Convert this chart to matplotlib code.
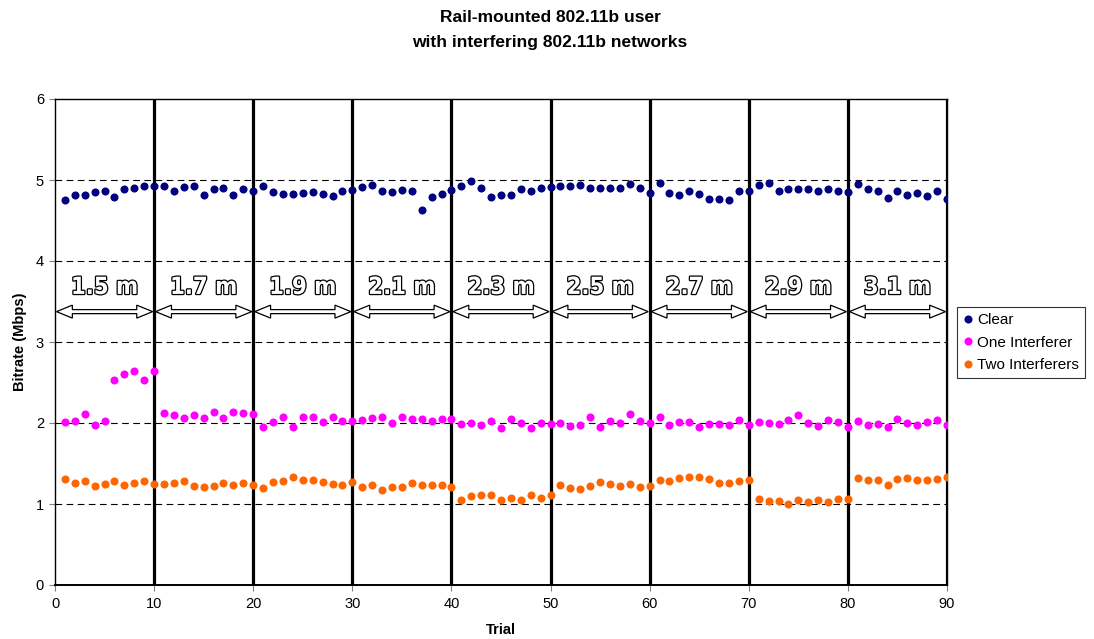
import numpy as np
import matplotlib
matplotlib.use("Agg")
import matplotlib.pyplot as plt
import matplotlib.patheffects as pe
from matplotlib.patches import Polygon
from matplotlib import font_manager

plt.rcParams['font.family'] = ['Liberation Sans', 'DejaVu Sans']

# data
trials = np.arange(1, 91)
clear = [4.75, 4.82, 4.82, 4.85, 4.86, 4.79, 4.89, 4.90, 4.93, 4.92,
         4.92, 4.87, 4.91, 4.93, 4.82, 4.89, 4.90, 4.82, 4.89, 4.86,
         4.92, 4.85, 4.83, 4.83, 4.84, 4.85, 4.83, 4.80, 4.86, 4.88,
         4.91, 4.94, 4.86, 4.85, 4.88, 4.86, 4.63, 4.79, 4.83, 4.88,
         4.93, 4.99, 4.90, 4.79, 4.81, 4.81, 4.89, 4.87, 4.90, 4.91,
         4.93, 4.92, 4.94, 4.90, 4.90, 4.90, 4.90, 4.95, 4.90, 4.84,
         4.96, 4.84, 4.82, 4.87, 4.83, 4.77, 4.77, 4.75, 4.87, 4.86,
         4.94, 4.96, 4.86, 4.89, 4.89, 4.89, 4.86, 4.89, 4.86, 4.85,
         4.95, 4.89, 4.87, 4.78, 4.86, 4.82, 4.84, 4.80, 4.86, 4.77]
one_interferer = [2.01, 2.03, 2.11, 1.98, 2.03, 2.53, 2.60, 2.64, 2.53, 2.64,
                  2.12, 2.10, 2.06, 2.10, 2.06, 2.14, 2.06, 2.13, 2.12, 2.11,
                  1.95, 2.01, 2.07, 1.95, 2.08, 2.08, 2.01, 2.07, 2.03, 2.02,
                  2.04, 2.06, 2.08, 2.00, 2.07, 2.05, 2.05, 2.02, 2.05, 2.05,
                  1.99, 2.00, 1.97, 2.02, 1.94, 2.05, 2.00, 1.94, 2.00, 1.99,
                  2.00, 1.96, 1.97, 2.07, 1.95, 2.03, 2.00, 2.11, 2.02, 2.00,
                  2.08, 1.97, 2.01, 2.01, 1.95, 1.99, 1.99, 1.97, 2.04, 1.97,
                  2.01, 2.00, 1.99, 2.04, 2.10, 2.00, 1.96, 2.04, 2.01, 1.95,
                  2.03, 1.97, 1.99, 1.95, 2.05, 2.00, 1.97, 2.01, 2.04, 1.98]
two_interferers = [1.31, 1.26, 1.29, 1.22, 1.25, 1.29, 1.24, 1.26, 1.29, 1.245,
                   1.245, 1.26, 1.28, 1.22, 1.215, 1.22, 1.26, 1.24, 1.26, 1.24,
                   1.20, 1.27, 1.28, 1.33, 1.30, 1.30, 1.275, 1.25, 1.235, 1.27,
                   1.21, 1.23, 1.17, 1.21, 1.215, 1.265, 1.23, 1.24, 1.23, 1.215,
                   1.045, 1.10, 1.11, 1.11, 1.045, 1.07, 1.045, 1.115, 1.07, 1.115,
                   1.23, 1.20, 1.19, 1.225, 1.27, 1.25, 1.22, 1.25, 1.215, 1.22,
                   1.30, 1.29, 1.325, 1.33, 1.33, 1.31, 1.26, 1.26, 1.28, 1.30,
                   1.06, 1.04, 1.04, 1.00, 1.045, 1.02, 1.05, 1.02, 1.06, 1.06,
                   1.325, 1.30, 1.30, 1.24, 1.31, 1.325, 1.30, 1.30, 1.31, 1.335]
distances = ['1.5 m', '1.7 m', '1.9 m', '2.1 m', '2.3 m', '2.5 m', '2.7 m', '2.9 m', '3.1 m']
boundaries = [0, 10, 20, 30, 40, 50, 60, 70, 80, 90]

# pick a narrow bold face for the distance labels if one is installed
names = {f.name for f in font_manager.fontManager.ttflist}
narrow = 'Liberation Sans Narrow' if 'Liberation Sans Narrow' in names else 'DejaVu Sans'

fig = plt.figure(figsize=(10.94, 6.39), dpi=100)
ax = fig.add_axes([55 / 1094, 54 / 639, 892 / 1094, 486 / 639])

ax.set_xlim(0, 90)
ax.set_ylim(0, 6)
ax.set_xticks(range(0, 91, 10))
ax.set_yticks(range(0, 7))
ax.tick_params(direction='out', length=4, width=0.8, color='#808080',
               labelsize=10.5)
ax.tick_params(axis='x', pad=5)
ax.tick_params(axis='y', pad=4)

# dashed gridlines
for yv in [1, 2, 3, 4, 5]:
    ax.axhline(yv, color='black', lw=0.8, ls=(0, (6, 4)), zorder=1)

# thick separators between distance segments
for b in boundaries[1:]:
    ax.axvline(b, color='black', lw=2.3, zorder=2)

for s in ax.spines.values():
    s.set_linewidth(1.0)
ax.spines['bottom'].set_linewidth(1.4)

ms = 5.8
ax.plot(trials, clear, 'o', color='#000080', ms=ms, mew=0, label='Clear', zorder=4)
ax.plot(trials, one_interferer, 'o', color='#FF00FF', ms=ms, mew=0, label='One Interferer', zorder=4)
ax.plot(trials, two_interferers, 'o', color='#FF6600', ms=ms, mew=0, label='Two Interferers', zorder=4)

# distance labels and double-headed arrows
label_y = 3.68
arrow_y = 3.375
hl, hh, sh = 1.75, 0.08, 0.025
outline = [pe.Stroke(linewidth=1.8, foreground='black'), pe.Normal()]
for i, name in enumerate(distances):
    x0, x1 = boundaries[i], boundaries[i + 1]
    ax.text((x0 + x1) / 2, label_y, name, ha='center', va='center',
            fontsize=17, fontweight='bold', fontstretch='condensed', color='white',
            family=narrow, path_effects=outline, zorder=5)
    pts = [(x0 + 0.15, arrow_y),
           (x0 + hl, arrow_y + hh), (x0 + hl, arrow_y + sh),
           (x1 - hl, arrow_y + sh), (x1 - hl, arrow_y + hh),
           (x1 - 0.15, arrow_y),
           (x1 - hl, arrow_y - hh), (x1 - hl, arrow_y - sh),
           (x0 + hl, arrow_y - sh), (x0 + hl, arrow_y - hh)]
    ax.add_patch(Polygon(pts, closed=True, facecolor='white', edgecolor='black',
                         lw=0.9, zorder=5))

ax.set_xlabel('Trial', fontsize=10.5, fontweight='bold', labelpad=8)
ax.set_ylabel('Bitrate (Mbps)', fontsize=10.5, fontweight='bold', labelpad=6)

fig.text(550 / 1094, 1 - 18 / 639, 'Rail-mounted 802.11b user', ha='center', va='center',
         fontsize=12.5, fontweight='bold')
fig.text(550 / 1094, 1 - 43 / 639, 'with interfering 802.11b networks', ha='center', va='center',
         fontsize=12.5, fontweight='bold')

leg = fig.legend(loc='upper left', bbox_to_anchor=(957 / 1094, 1 - 307 / 639),
                 fontsize=11, frameon=True, fancybox=False, handlelength=0.6,
                 handletextpad=0.3, borderpad=0.4, borderaxespad=0, labelspacing=0.55)
leg.get_frame().set_edgecolor('black')
leg.get_frame().set_linewidth(0.8)

fig.savefig('out.png', dpi=100)
